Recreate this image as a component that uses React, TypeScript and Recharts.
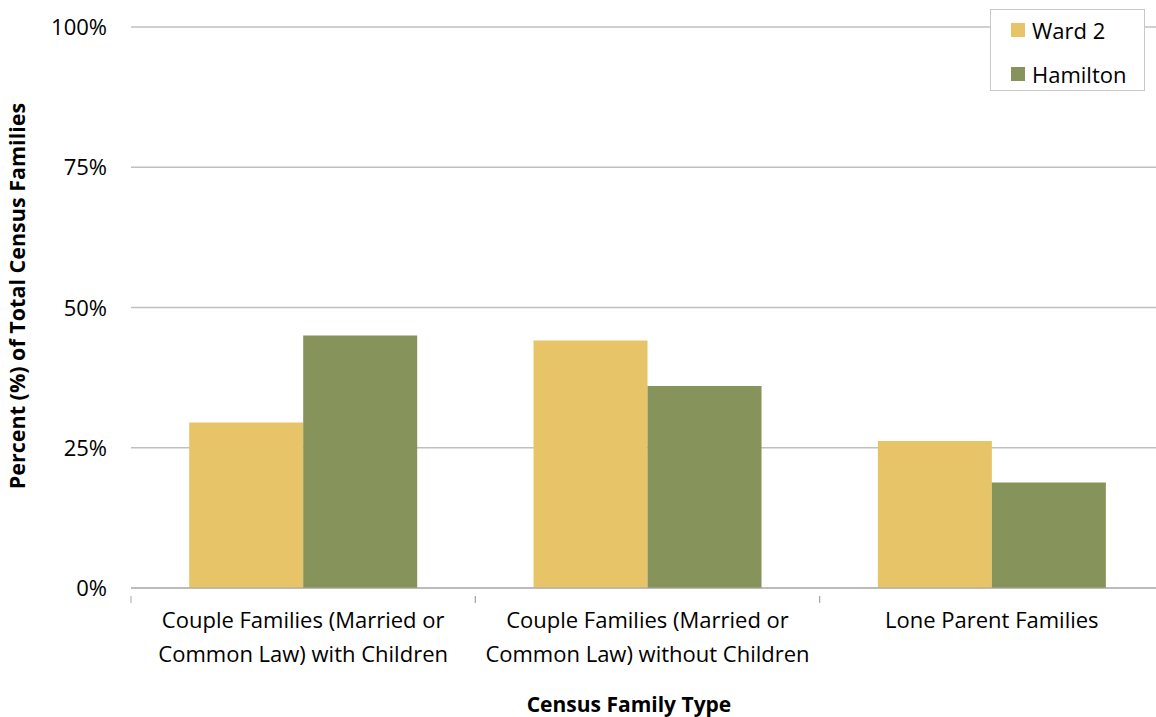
import React from 'react';
import {
  BarChart,
  Bar,
  XAxis,
  YAxis,
  CartesianGrid,
  Customized
} from 'recharts';

const categories = [
  ['Couple Families (Married or', 'Common Law) with Children'],
  ['Couple Families (Married or', 'Common Law) without Children'],
  ['Lone Parent Families']
];
const ward2 = [29.5, 44.1, 26.2];
const hamilton = [45.0, 36.0, 18.8];
const yTicks = [0, 25, 50, 75, 100];

const seriesNames = ['Ward 2', 'Hamilton'];
const COLORS = ['#E6C467', '#86935B'];

const FONT = '"Open Sans", sans-serif';

const data = categories.map((lines, i) => ({
  name: lines.join(' '),
  ward2: ward2[i],
  hamilton: hamilton[i]
}));

const XTick = (props: any) => {
  const { x, y, payload, index } = props;
  const lines: string[] = categories[index] || [payload.value];
  const half = payload.offset || 0;
  return (
    <g>
      <line x1={x - half} y1={y} x2={x - half} y2={y + 7} stroke="#a6a6a6" />
      <line x1={x + half} y1={y} x2={x + half} y2={y + 7} stroke="#a6a6a6" />
      {lines.map((l, i) => (
        <text
          key={i}
          x={x}
          y={y + 32 + i * 34}
          textAnchor="middle"
          fontFamily={FONT}
          fontSize={22}
          fill="#000"
        >
          {l}
        </text>
      ))}
    </g>
  );
};

const YTick = (props: any) => {
  const { y, payload } = props;
  return (
    <text x={107} y={y + 8} textAnchor="end" fontFamily={FONT} fontSize={22} fill="#000">
      {`${payload.value}%`}
    </text>
  );
};

const LegendBox = () => (
  <div
    style={{
      position: 'absolute',
      left: 990,
      top: 9,
      width: 155,
      height: 82,
      border: '1px solid #c8c8c8',
      background: '#fff',
      fontFamily: FONT,
      fontSize: 22,
      boxSizing: 'border-box'
    }}
  >
    {seriesNames.map((n, i) => (
      <div key={n} style={{ position: 'absolute', left: 20, top: 6 + i * 44, display: 'flex', alignItems: 'center', height: 28 }}>
        <div style={{ width: 14, height: 14, background: COLORS[i], marginRight: 7 }} />
        <span style={{ lineHeight: '28px' }}>{n}</span>
      </div>
    ))}
  </div>
);

const Titles = () => (
  <g>
    <text
      x={629}
      y={712}
      textAnchor="middle"
      fontFamily={FONT}
      fontSize={21}
      fontWeight="bold"
      fill="#000"
    >
      Census Family Type
    </text>
    <text
      transform="translate(25, 296) rotate(-90)"
      textAnchor="middle"
      fontFamily={FONT}
      fontSize={21.5}
      fontWeight="bold"
      fill="#000"
    >
      Percent (%) of Total Census Families
    </text>
  </g>
);

export default function App() {
  return (
    <div style={{ position: 'absolute', left: 0, top: 0, width: 1156, height: 717, overflow: 'hidden', background: '#fff' }}>
      <BarChart
        width={1170}
        height={717}
        data={data}
        margin={{ top: 27, right: 6, bottom: 0, left: 0 }}
        barCategoryGap="16.9%"
        barGap={0}
      >
        <CartesianGrid vertical={false} stroke="#c0c0c0" strokeWidth={1.5} />
        <XAxis
          dataKey="name"
          height={129}
          axisLine={{ stroke: '#a6a6a6' }}
          tickLine={false}
          tick={<XTick />}
          interval={0}
        />
        <YAxis
          width={131}
          domain={[0, 100]}
          ticks={yTicks}
          axisLine={false}
          tickLine={false}
          tick={<YTick />}
        />
        <Bar dataKey="ward2" name={seriesNames[0]} fill={COLORS[0]} isAnimationActive={false} />
        <Bar dataKey="hamilton" name={seriesNames[1]} fill={COLORS[1]} isAnimationActive={false} />
        <Customized component={<Titles />} />
      </BarChart>
      <LegendBox />
    </div>
  );
}
